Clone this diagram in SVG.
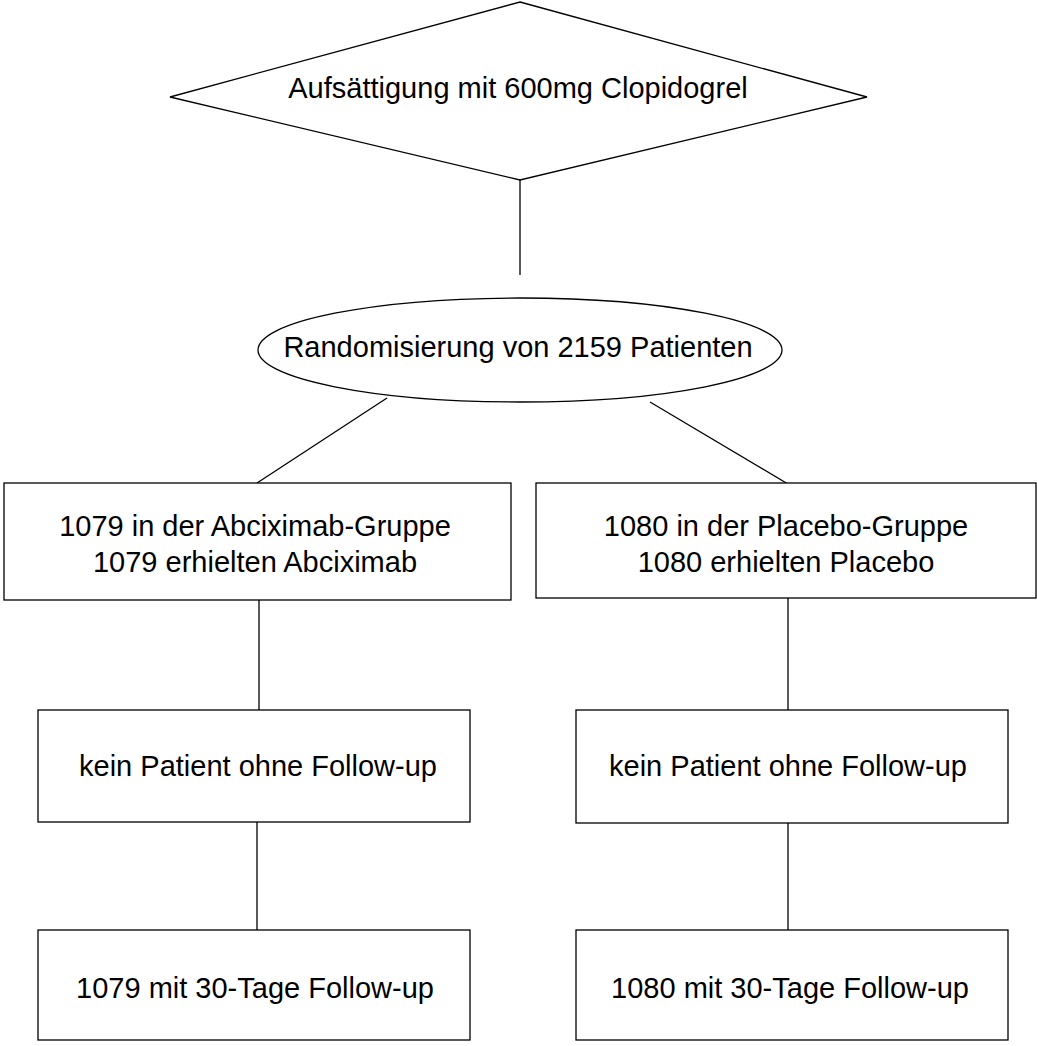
<svg xmlns="http://www.w3.org/2000/svg" width="1037" height="1046" viewBox="0 0 1037 1046">
<style>
.s{fill:#fff;stroke:#000;stroke-width:1.3}
.c{stroke:#000;stroke-width:1.3;fill:none}
text{font-family:"Liberation Sans",Arial,sans-serif;font-size:29px;fill:#000;text-anchor:middle}
</style>
<rect width="1037" height="1046" fill="#fff"/>
<g id="connectors">
<line class="c" x1="520" y1="180" x2="520" y2="275"/>
<line class="c" x1="387" y1="398" x2="257" y2="483"/>
<line class="c" x1="650" y1="402" x2="793" y2="487"/>
<line class="c" x1="259" y1="600" x2="259" y2="710"/>
<line class="c" x1="788" y1="598" x2="788" y2="710"/>
<line class="c" x1="257" y1="822" x2="257" y2="930"/>
<line class="c" x1="788" y1="823" x2="788" y2="930"/>
</g>
<g id="n1">
<polygon class="s" points="520,2 867,97 520,180 170,97"/>
<text x="518" y="98">Aufsättigung mit 600mg Clopidogrel</text>
</g>
<g id="n2">
<ellipse class="s" cx="520" cy="350" rx="262" ry="52"/>
<text x="518" y="357">Randomisierung von 2159 Patienten</text>
</g>
<g id="n3">
<rect class="s" x="4" y="483" width="507" height="117"/>
<text x="255" y="536">1079 in der Abciximab-Gruppe</text>
<text x="255" y="572">1079 erhielten Abciximab</text>
</g>
<g id="n4">
<rect class="s" x="536" y="483" width="500" height="115"/>
<text x="786" y="536">1080 in der Placebo-Gruppe</text>
<text x="786" y="572">1080 erhielten Placebo</text>
</g>
<g id="n5">
<rect class="s" x="38" y="710" width="432" height="112"/>
<text x="258" y="776">kein Patient ohne Follow-up</text>
</g>
<g id="n6">
<rect class="s" x="576" y="710" width="432" height="113"/>
<text x="788" y="776">kein Patient ohne Follow-up</text>
</g>
<g id="n7">
<rect class="s" x="38" y="930" width="432" height="110"/>
<text x="255" y="998">1079 mit 30-Tage Follow-up</text>
</g>
<g id="n8">
<rect class="s" x="576" y="930" width="432" height="110"/>
<text x="790" y="998">1080 mit 30-Tage Follow-up</text>
</g>
</svg>
